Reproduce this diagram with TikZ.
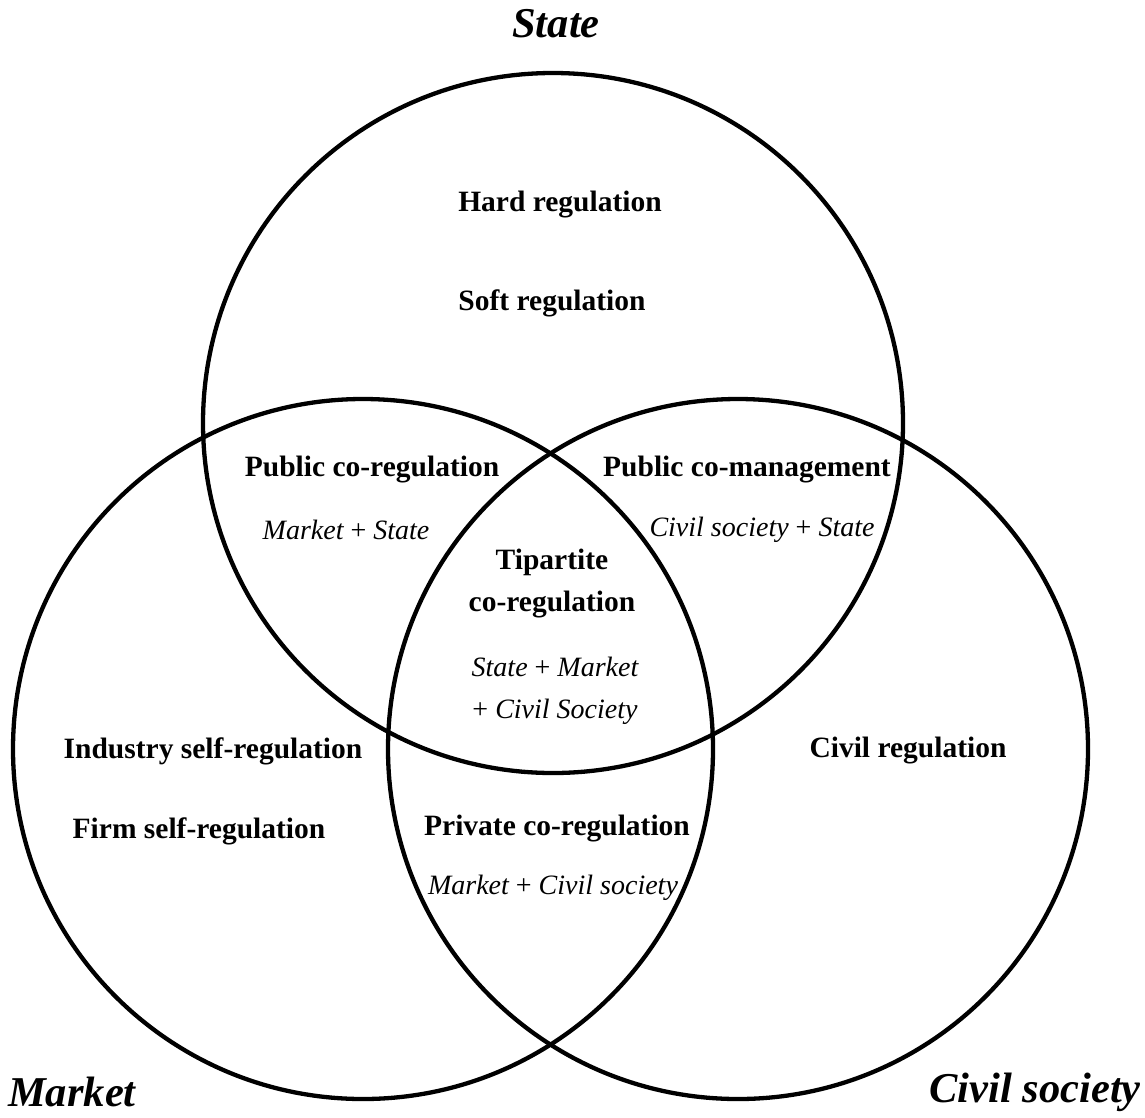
\documentclass[tikz,border=0pt]{standalone}
\usepackage{fontspec}
\setmainfont{Liberation Serif}
\begin{document}
\begin{tikzpicture}[x=1pt,y=-1pt,
  ring/.style={draw=black,line width=4.3pt,circle,minimum size=700pt,inner sep=0pt},
  lbl/.style={font=\fontsize{29.5}{42}\selectfont\bfseries,align=center,inner sep=0pt},
  sub/.style={font=\fontsize{28}{42}\selectfont\itshape,align=center,inner sep=0pt},
  corner/.style={font=\fontsize{42.5}{48}\selectfont\bfseries\itshape,inner sep=0pt}]
\useasboundingbox (0,0) rectangle (1145,1117);
% the three overlapping spheres
\node[ring] (state) at (553,423) {};
\node[ring] (market) at (363,749) {};
\node[ring] (civil) at (738,749) {};
% sphere titles
\node[corner] (tstate) at (556,24) {State};
\node[corner,anchor=west] (tmarket) at (8,1092) {Market};
\node[corner,anchor=east] (tcivil) at (1141,1092) {Civil society};
% state only
\node[lbl] (hard) at (560,205) {Hard regulation};
\node[lbl] (soft) at (552,303) {Soft regulation};
% market + state
\node[lbl] (pubcoreg) at (372,470) {Public co-regulation};
\node[sub] (ms) at (346,530) {Market {\upshape+} State};
% civil society + state
\node[lbl] (pubcoman) at (747,470) {Public co-management};
\node[sub] (cs) at (762,530) {Civil society {\upshape+} State};
% all three
\node[lbl] (tri) at (552,584) {Tipartite\\co-regulation};
\node[sub] (smc) at (555,691) {State {\upshape+} Market\\{\upshape+} Civil Society};
% market only
\node[lbl] (industry) at (213,751) {Industry self-regulation};
\node[lbl] (firm) at (199,831) {Firm self-regulation};
% market + civil society
\node[lbl] (privcoreg) at (557,829) {Private co-regulation};
\node[sub] (mc) at (553,888) {Market {\upshape+} Civil society};
% civil society only
\node[lbl] (civreg) at (908,751) {Civil regulation};
\end{tikzpicture}
\end{document}
